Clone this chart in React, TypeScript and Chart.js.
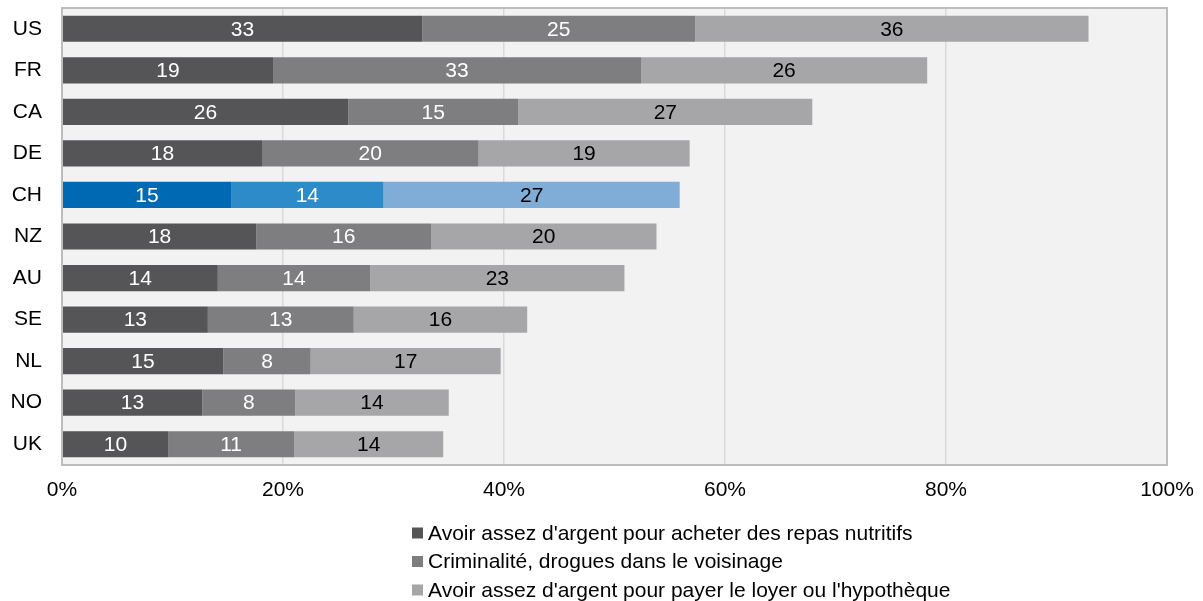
import React, { useEffect, useRef } from 'react';
import { Chart, registerables } from 'chart.js';

Chart.register(...registerables);

const categories = ['US', 'FR', 'CA', 'DE', 'CH', 'NZ', 'AU', 'SE', 'NL', 'NO', 'UK'];
const seriesNames = [
  "Avoir assez d'argent pour acheter des repas nutritifs",
  'Criminalité, drogues dans le voisinage',
  "Avoir assez d'argent pour payer le loyer ou l'hypothèque",
];
const nutritious = [32.6, 19.1, 25.9, 18.1, 15.3, 17.6, 14.1, 13.2, 14.6, 12.7, 9.6];
const crime = [24.7, 33.3, 15.4, 19.6, 13.8, 15.8, 13.8, 13.2, 7.9, 8.4, 11.4];
const rent = [35.6, 25.9, 26.6, 19.1, 26.8, 20.4, 23.0, 15.7, 17.2, 13.9, 13.5];
const xTicks = [0, 20, 40, 60, 80, 100];

const grayColors = ['#555557', '#7e7e80', '#a6a6a8'];
const highlightColors = ['#0069b4', '#2e8bc9', '#80acd8'];
const highlightCategory = 'CH';
const labelColors = ['#ffffff', '#ffffff', '#000000'];

const FONT = '"Liberation Sans", Arial, sans-serif';
const FONT_SIZE = 21;

const frame = {
  id: 'frame',
  beforeDraw(chart: any) {
    const { ctx, chartArea: a } = chart;
    ctx.save();
    ctx.fillStyle = '#f2f2f2';
    ctx.fillRect(a.left, a.top, a.right - a.left, a.bottom - a.top);
    ctx.restore();
  },
  afterDatasetsDraw(chart: any) {
    const { ctx, chartArea: a } = chart;
    ctx.save();
    ctx.strokeStyle = '#bdbdbd';
    ctx.lineWidth = 2;
    ctx.strokeRect(a.left, a.top, a.right - a.left, a.bottom - a.top);
    ctx.restore();
  },
};

const valueLabels = {
  id: 'valueLabels',
  afterDatasetsDraw(chart: any) {
    const { ctx } = chart;
    ctx.save();
    ctx.font = `${FONT_SIZE}px ${FONT}`;
    ctx.textAlign = 'center';
    ctx.textBaseline = 'middle';
    chart.data.datasets.forEach((ds: any, di: number) => {
      const meta = chart.getDatasetMeta(di);
      meta.data.forEach((el: any, i: number) => {
        const v = ds.data[i];
        const cx = (el.x + el.base) / 2;
        ctx.fillStyle = labelColors[di];
        ctx.fillText(String(Math.round(v)), cx, el.y + 1);
      });
    });
    ctx.restore();
  },
};

const stackedLegend = {
  id: 'stackedLegend',
  afterDraw(chart: any) {
    const { ctx, chartArea: a } = chart;
    ctx.save();
    ctx.font = `${FONT_SIZE}px ${FONT}`;
    ctx.textAlign = 'left';
    ctx.textBaseline = 'middle';
    const boxX = 412;
    const textX = 428;
    const y0 = a.bottom + 68;
    const step = 28.5;
    seriesNames.forEach((name, i) => {
      const cy = y0 + i * step;
      ctx.fillStyle = grayColors[i];
      ctx.fillRect(boxX, cy - 5.5, 11, 11);
      ctx.fillStyle = '#000000';
      ctx.fillText(name, textX, cy + 1);
    });
    ctx.restore();
  },
};

export default function App() {
  const canvasRef = useRef<HTMLCanvasElement | null>(null);

  useEffect(() => {
    document.body.style.margin = '0';
    const canvas = canvasRef.current;
    if (!canvas) return;
    const seriesData = [nutritious, crime, rent];
    const chart = new Chart(canvas, {
      type: 'bar',
      data: {
        labels: categories,
        datasets: seriesData.map((d, i) => ({
          label: seriesNames[i],
          data: d,
          backgroundColor: categories.map((c) => (c === highlightCategory ? highlightColors[i] : grayColors[i])),
          borderWidth: 0,
          barPercentage: 0.63,
          categoryPercentage: 1,
        })),
      },
      options: {
        indexAxis: 'y',
        responsive: false,
        animation: false,
        layout: { padding: { top: 8, right: 36, bottom: 96, left: 0 } },
        plugins: {
          legend: { display: false },
          tooltip: { enabled: false },
        },
        scales: {
          x: {
            stacked: true,
            min: 0,
            max: 100,
            afterBuildTicks: (s: any) => {
              s.ticks = xTicks.map((v) => ({ value: v }));
            },
            ticks: {
              callback: (v: any) => `${v}%`,
              font: { family: FONT, size: FONT_SIZE },
              color: '#000000',
              padding: 13,
              maxRotation: 0,
              autoSkip: false,
            },
            grid: {
              color: (c: any) => (c.tick && (c.tick.value === 0 || c.tick.value === 100) ? 'rgba(0,0,0,0)' : '#d9d9d9'),
              lineWidth: 1.5,
              drawTicks: false,
            },
            border: { display: false },
            afterFit: (s: any) => {
              s.height = 40;
              s.paddingLeft = 0;
              s.paddingRight = 0;
            },
          },
          y: {
            stacked: true,
            ticks: {
              font: { family: FONT, size: FONT_SIZE },
              color: '#000000',
              padding: 20,
            },
            grid: { display: false, drawTicks: false },
            border: { display: false },
            afterFit: (s: any) => {
              s.width = 62;
              s.paddingTop = 0;
              s.paddingBottom = 0;
            },
          },
        },
      } as any,
      plugins: [frame, valueLabels, stackedLegend],
    });
    return () => chart.destroy();
  }, []);

  return (
    <div style={{ width: 1203, height: 601, position: 'relative' }}>
      <canvas ref={canvasRef} width={1203} height={601} style={{ display: 'block' }} />
    </div>
  );
}
